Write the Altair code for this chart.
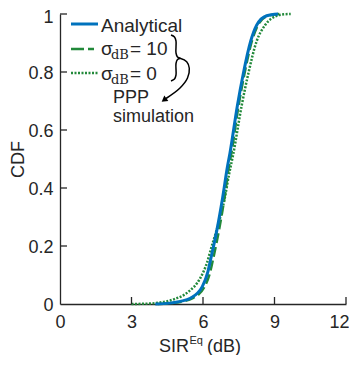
import altair as alt
import pandas as pd

# ---- data ----
analytical_x = [4.0, 4.6, 5.05, 5.47, 5.97, 6.2, 6.35, 6.58, 6.82, 7.03, 7.13, 7.44, 7.69, 8.0, 8.25, 8.67, 9.15]
analytical_y = [0, 0.003, 0.009, 0.02, 0.06, 0.11, 0.165, 0.254, 0.365, 0.476, 0.52, 0.683, 0.794, 0.906, 0.961, 0.994, 1.0]

sigma10_x = [4.1, 4.7, 5.15, 5.57, 6.07, 6.3, 6.45, 6.67, 6.9, 7.09, 7.19, 7.49, 7.74, 8.05, 8.3, 8.72, 9.2]
sigma10_y = [0, 0.003, 0.009, 0.02, 0.06, 0.11, 0.165, 0.254, 0.365, 0.476, 0.52, 0.683, 0.794, 0.906, 0.961, 0.994, 1.0]

sigma0_x = [3.0, 3.6, 4.2, 4.77, 5.4, 5.87, 6.17, 6.37, 6.57, 6.9, 7.1, 7.27, 7.62, 7.9, 8.25, 8.6, 9.09, 9.4, 9.68]
sigma0_y = [0, 0.001, 0.005, 0.016, 0.043, 0.087, 0.143, 0.2, 0.254, 0.36, 0.45, 0.517, 0.683, 0.794, 0.906, 0.961, 0.994, 0.999, 1.0]

x_ticks = [0, 3, 6, 9, 12]
y_ticks = [0, 0.2, 0.4, 0.6, 0.8, 1.0]

# ---- annotation geometry (plot-area pixels) ----
brace_px = [(111, 21), (114.5, 23), (116, 27), (116, 39), (117.5, 43), (120, 44.3),
            (117.5, 45.6), (116, 49.5), (116, 61), (114.5, 65), (111, 67)]
arrow_px = [(120, 44.3), (126.7, 47.7), (129.3, 54.3), (127.5, 64), (120, 74), (106, 84.5)]

W, H = 286, 290
BLUE = "#0072BD"
GREEN = "#22893a"
INK = "#262626"
FONT = "Liberation Sans"

xs = alt.Scale(domain=[0, 12], nice=False, zero=False)
ys = alt.Scale(domain=[0, 1], nice=False)

XA = alt.Axis(values=x_ticks, title=None, grid=False, ticks=False, tickSize=0,
              labelPadding=9.5, domainColor=INK, domainWidth=1.3, labelFlush=False,
              labelAlign={"condition": {"test": "datum.value == 12", "value": "right"}, "value": "center"},
              labelOffset={"condition": {"test": "datum.value == 12", "value": 3}, "value": 0},
              labelFontSize=18, labelColor=INK, labelFont=FONT)
YA = alt.Axis(values=y_ticks, title="CDF", format=".1~f", grid=False, ticks=False,
              tickSize=0, labelPadding=7, domainColor=INK, domainWidth=1.3,
              labelOffset={"condition": {"test": "datum.value == 1", "value": 3}, "value": 1.5},
              labelFontSize=18, labelColor=INK, labelFont=FONT,
              titleFontSize=18, titleFontWeight="normal", titleColor=INK,
              titleFont=FONT, titlePadding=0)

def curve(xv, yv):
    return pd.DataFrame({"x": xv, "y": yv, "i": list(range(len(xv)))})

def line_layer(df, color, width, dash=None):
    kw = dict(color=color, strokeWidth=width, interpolate="monotone")
    if dash:
        kw["strokeDash"] = dash
    return alt.Chart(df).mark_line(**kw).encode(
        x=alt.X("x:Q", scale=xs, axis=XA),
        y=alt.Y("y:Q", scale=ys, axis=YA),
        order="i:Q",
    )

dotted = line_layer(curve(sigma0_x, sigma0_y), GREEN, 2.5, [2, 1.5])
dashed = line_layer(curve(sigma10_x, sigma10_y), GREEN, 2.5, [10, 4])
blue = line_layer(curve(analytical_x, analytical_y), BLUE, 3)

# inward ticks
xt = alt.Chart(pd.DataFrame({"x": x_ticks[1:]})).mark_rule(color=INK, strokeWidth=1.3).encode(
    x=alt.X("x:Q", scale=xs, axis=XA), y=alt.value(H), y2=alt.value(H - 7))
yt = alt.Chart(pd.DataFrame({"y": y_ticks[1:]})).mark_rule(color=INK, strokeWidth=1.3).encode(
    y=alt.Y("y:Q", scale=ys, axis=YA), x=alt.value(0), x2=alt.value(7))

one = pd.DataFrame({"a": [0]})

def rule(y, color, width, dash=None):
    kw = dict(color=color, strokeWidth=width)
    if dash:
        kw["strokeDash"] = dash
    return alt.Chart(one).mark_rule(**kw).encode(x=alt.value(11), x2=alt.value(38), y=alt.value(y))

def txt(s, x, y, size=19, font=FONT):
    return alt.Chart(one).mark_text(text=s, align="left", baseline="alphabetic",
                                    fontSize=size, font=font, color=INK).encode(
        x=alt.value(x), y=alt.value(y))

legend = [
    rule(10, BLUE, 3),
    rule(35, GREEN, 2.5, [13, 4, 6, 100]),
    rule(59, GREEN, 2.5, [2, 1.5]),
    txt("Analytical", 41, 17.7),
    txt("σ", 41, 41), txt("dB", 51, 44.5, 13, "DejaVu Serif"), txt("= 10", 70, 41),
    txt("σ", 41, 66), txt("dB", 51, 69.5, 13, "DejaVu Serif"), txt("= 0", 70, 66),
    txt("PPP", 53, 88.5, 18), txt("simulation", 53, 107.5, 18),
]

def path(pts):
    df = pd.DataFrame({"px": [p[0] for p in pts], "py": [p[1] for p in pts], "i": list(range(len(pts)))})
    return alt.Chart(df).mark_line(color="black", strokeWidth=1.5, interpolate="catmull-rom").encode(
        x=alt.X("px:Q", scale=None, axis=None), y=alt.Y("py:Q", scale=None, axis=None), order="i:Q")

brace = path(brace_px)
arrow = path(arrow_px)
head = alt.Chart(one).mark_point(shape="triangle-up", filled=True, color="black", size=45,
                                 angle=233, opacity=1).encode(x=alt.value(104), y=alt.value(86))

xtitle = [
    txt("SIR", 99, 337.5, 18),
    txt("Eq", 129.5, 330, 11),
    txt("(dB)", 147, 337.5, 18),
]

chart = alt.layer(dotted, dashed, blue, xt, yt, *legend, brace, arrow, head, *xtitle).properties(
    width=W, height=H,
    autosize=alt.AutoSizeParams(type="none"),
    padding={"left": 52, "top": 6, "right": 3, "bottom": 51},
).configure_view(stroke=None)

chart.save("out.html", embed_options={"renderer": "svg", "actions": False})
